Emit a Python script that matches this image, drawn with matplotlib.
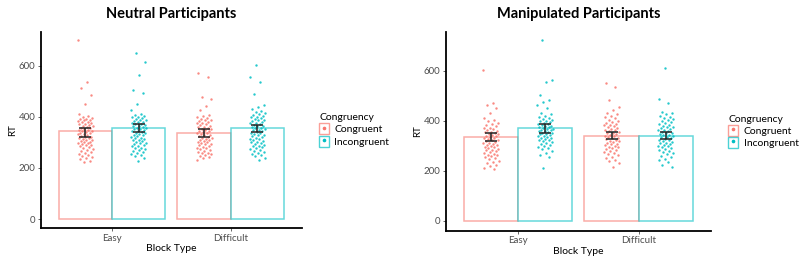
import numpy as np
import matplotlib.pyplot as plt
from matplotlib.patches import Rectangle
from matplotlib.lines import Line2D
from matplotlib.legend_handler import HandlerTuple

plt.rcParams['font.family'] = ['Lato', 'DejaVu Sans']

# data
block_types = ['Easy', 'Difficult']
congruency = ['Congruent', 'Incongruent']
colors = {'Congruent': '#F8766D', 'Incongruent': '#00BFC4'}

# Neutral participants
neutral_means = {'Congruent': [343, 338], 'Incongruent': [357, 357]}
neutral_lo = {'Congruent': [322, 320], 'Incongruent': [339, 339]}
neutral_hi = {'Congruent': [357, 351], 'Incongruent': [372, 370]}
neutral_easy_con = [700, 537, 511, 485, 449, 413, 403, 399, 396, 393, 391, 388, 386, 383, 380,
                    379, 376, 372, 371, 368, 366, 363, 361, 357, 356, 352, 349, 348, 346, 343,
                    341, 338, 336, 333, 331, 328, 326, 323, 321, 318, 316, 313, 311, 308, 305,
                    303, 300, 298, 296, 292, 290, 288, 284, 281, 278, 274, 271, 266, 263, 259,
                    255, 251, 247, 243, 238, 234, 229, 222]
neutral_easy_inc = [648, 616, 563, 505, 492, 450, 426, 413, 409, 405, 401, 398, 395, 392, 389,
                    387, 384, 381, 378, 376, 373, 371, 368, 365, 363, 361, 358, 356, 353, 351,
                    348, 346, 343, 340, 338, 335, 333, 330, 327, 325, 322, 319, 316, 313, 311,
                    308, 305, 302, 299, 296, 293, 290, 287, 284, 280, 277, 273, 270, 266, 262,
                    258, 254, 250, 245, 238, 228]
neutral_diff_con = [570, 554, 476, 468, 442, 426, 407, 403, 399, 395, 392, 389, 386, 383, 380,
                    377, 374, 371, 368, 365, 362, 360, 357, 354, 351, 349, 346, 343, 341, 338,
                    335, 333, 330, 327, 325, 322, 319, 317, 314, 311, 309, 306, 303, 300, 298,
                    295, 292, 289, 286, 283, 280, 277, 274, 271, 267, 264, 260, 257, 253, 249,
                    245, 241, 237, 233]
neutral_diff_inc = [603, 554, 537, 489, 446, 440, 430, 421, 418, 414, 411, 408, 404, 401, 398,
                    395, 392, 389, 386, 383, 380, 377, 375, 372, 369, 366, 363, 361, 358, 355,
                    352, 350, 347, 344, 341, 338, 336, 333, 330, 327, 324, 321, 318, 315, 312,
                    309, 306, 303, 300, 297, 294, 291, 287, 284, 281, 278, 274, 271, 267, 263,
                    259, 255, 250, 245, 240, 233]

# Manipulated participants
manip_means = {'Congruent': [336, 340], 'Incongruent': [370, 340]}
manip_lo = {'Congruent': [318, 326], 'Incongruent': [352, 326]}
manip_hi = {'Congruent': [352, 356], 'Incongruent': [387, 354]}
manip_easy_con = [603, 470, 463, 450, 430, 410, 403, 398, 392, 386, 381, 377, 372, 369, 365,
                  362, 359, 356, 353, 350, 348, 345, 342, 339, 337, 334, 331, 329, 326, 323,
                  321, 318, 315, 312, 310, 307, 304, 301, 298, 296, 293, 290, 287, 284, 281,
                  278, 275, 272, 268, 265, 262, 258, 254, 250, 246, 241, 236, 231, 225, 218,
                  212, 208]
manip_easy_inc = [720, 563, 556, 503, 483, 476, 463, 450, 430, 425, 420, 415, 411, 407, 403,
                  400, 397, 394, 391, 388, 385, 383, 380, 378, 375, 373, 371, 368, 366, 364,
                  361, 359, 357, 355, 352, 350, 348, 345, 343, 340, 338, 335, 332, 330, 327,
                  324, 321, 318, 315, 311, 308, 304, 300, 296, 291, 286, 280, 273, 265, 257,
                  210]
manip_diff_con = [549, 533, 483, 456, 443, 430, 425, 419, 414, 409, 404, 400, 396, 392, 388,
                  384, 381, 377, 374, 370, 367, 364, 361, 358, 355, 352, 349, 346, 343, 340,
                  337, 334, 331, 329, 326, 323, 320, 317, 314, 311, 308, 305, 302, 299, 296,
                  293, 290, 286, 283, 279, 275, 271, 267, 262, 257, 251, 245, 238, 230, 217]
manip_diff_inc = [609, 486, 470, 436, 430, 425, 420, 415, 410, 405, 401, 397, 393, 389, 385,
                  382, 379, 376, 373, 370, 367, 364, 361, 358, 355, 352, 350, 347, 344, 341,
                  338, 336, 333, 330, 327, 324, 321, 318, 315, 312, 309, 306, 303, 300, 297,
                  294, 290, 287, 283, 279, 275, 271, 266, 261, 255, 249, 242, 234, 225, 217]

panels = [
    ('Neutral Participants', neutral_means, neutral_lo, neutral_hi,
     {'Congruent': [neutral_easy_con, neutral_diff_con],
      'Incongruent': [neutral_easy_inc, neutral_diff_inc]},
     [40.7 / 800, 31 / 259, 261.3 / 800, 196 / 259], (-35, 732)),
    ('Manipulated Participants', manip_means, manip_lo, manip_hi,
     {'Congruent': [manip_easy_con, manip_diff_con],
      'Incongruent': [manip_easy_inc, manip_diff_inc]},
     [445.7 / 800, 28.3 / 259, 265.3 / 800, 199 / 259], (-39, 755)),
]

fig = plt.figure(figsize=(8, 2.59), dpi=100)
bar_w = 0.45
x = np.arange(1, len(block_types) + 1)

for title, means, lo, hi, pts, rect, ylim in panels:
    ax = fig.add_axes(rect)
    for j, cond in enumerate(congruency):
        off = (j - 0.5) * bar_w
        col = colors[cond]
        ax.bar(x + off, means[cond], width=bar_w, facecolor='white',
               edgecolor=col, linewidth=1.1, alpha=0.6, zorder=1)
        for k, vals in enumerate(pts[cond]):
            n = len(vals)
            jit = ((np.arange(n) * 0.618034 + 0.13 * k + 0.3 * j) % 1 - 0.5) * 0.13
            ax.scatter(x[k] + off + jit, vals, s=3, color=col, alpha=0.85,
                       linewidths=0, zorder=2)
        yerr = [np.array(means[cond]) - np.array(lo[cond]),
                np.array(hi[cond]) - np.array(means[cond])]
        ax.errorbar(x + off, means[cond], yerr=yerr, fmt='none', ecolor='#222222',
                    elinewidth=1.1, capsize=4.5, capthick=1.1, zorder=3)

    ax.set_xlim(0.4, 2.6)
    ax.set_ylim(*ylim)
    ax.set_xticks(x)
    ax.set_xticklabels(block_types)
    ax.set_yticks([0, 200, 400, 600])
    ax.tick_params(axis='both', labelsize=7, colors='#4D4D4D', length=2, width=0.6, pad=2)
    for s in ['top', 'right']:
        ax.spines[s].set_visible(False)
    for s in ['left', 'bottom']:
        ax.spines[s].set_linewidth(1.3)
        ax.spines[s].set_color('black')
    ax.set_xlabel('Block Type', fontsize=7.5, labelpad=1)
    ax.set_ylabel('RT', fontsize=7, labelpad=1)
    ax.set_title(title, fontsize=10.5, fontweight='bold', pad=10)

    # legend keys: outlined box with a small dot in the middle
    handles = []
    for cond in congruency:
        box = Rectangle((0, 0), 1, 1, facecolor='white', edgecolor=colors[cond],
                        linewidth=1.0, alpha=0.7)
        dot = Line2D([], [], linestyle='none', marker='o', markersize=1.6,
                     color=colors[cond])
        handles.append((box, dot))
    ax.legend(handles, congruency, title='Congruency', loc='center left',
              bbox_to_anchor=(1.05, 0.5), frameon=False, fontsize=7.5,
              title_fontsize=7.5, handler_map={tuple: HandlerTuple(ndivide=1, pad=0)},
              handlelength=0.95, handleheight=1.25, handletextpad=0.5,
              labelspacing=0.1, alignment='left', borderaxespad=0)

plt.savefig('out.png', dpi=100)
